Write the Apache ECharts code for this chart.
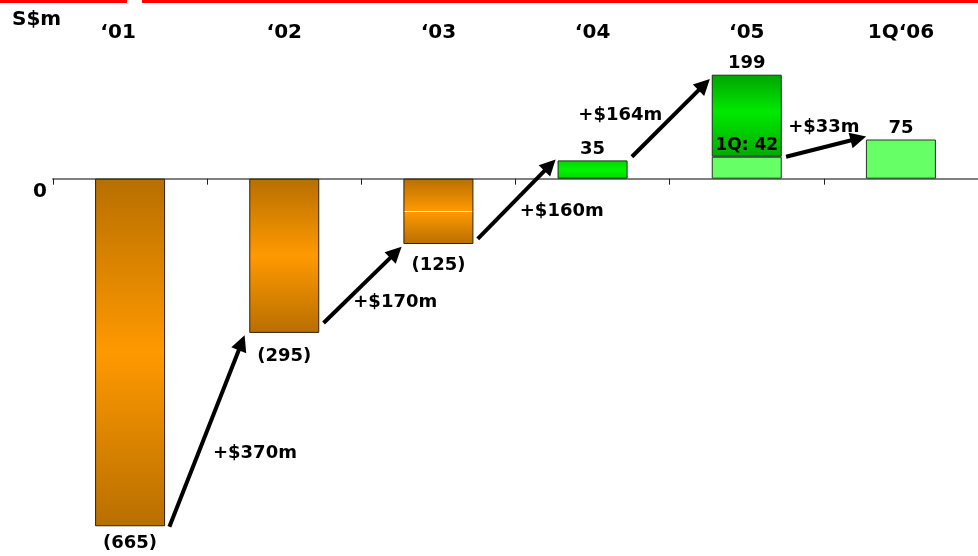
<!DOCTYPE html>
<html>
<head>
<meta charset="utf-8">
<title>S$m</title>
<script src="https://cdn.jsdelivr.net/npm/echarts@6/dist/echarts.min.js"></script>
<style>
  html, body { margin: 0; padding: 0; background: #fff; }
  #chart { width: 978px; height: 556px; }
</style>
</head>
<body>
<div id="chart"></div>
<script>
// data
const categories = ['‘01', '‘02', '‘03', '‘04', '‘05', '1Q‘06']
const yearValues = [-665, -295, -125, 35, 199, 75]
const firstQuarter = [null, null, null, null, 42, null]   // '05 split
const stepLabels = ['+$370m', '+$170m', '+$160m', '+$164m', '+$33m']
const arrowFromValue = [-666, -276, -115, 42, 42]
const arrowToValue = [-314, -141, 26, 180, 77]
// label anchors, in [category position, S$m]
const stepLabelAt = [[1.31, -525], [2.22, -236], [3.30, -62], [3.68, 122], [5.0, 99]]

const FONT = 'DejaVu Sans'
const negLabelGap = [8, 14, 12]

const orange = (white) => new echarts.graphic.LinearGradient(0, 0, 0, 1, white ? [
    { offset: 0, color: '#b86f00' },
    { offset: 0.49, color: '#ff9900' },
    { offset: 0.492, color: '#ffffff' },
    { offset: 0.508, color: '#ffffff' },
    { offset: 0.51, color: '#ff9900' },
    { offset: 1, color: '#b86f00' }
] : [
    { offset: 0, color: '#b86f00' },
    { offset: 0.5, color: '#ff9900' },
    { offset: 1, color: '#b86f00' }
])
const darkGreen = new echarts.graphic.LinearGradient(0, 0, 0, 1, [
    { offset: 0, color: '#00a400' },
    { offset: 0.45, color: '#00ea00' },
    { offset: 1, color: '#00aa00' }
])
const green = new echarts.graphic.LinearGradient(0, 0, 0, 1, [
    { offset: 0, color: '#00d400' },
    { offset: 0.5, color: '#00f400' },
    { offset: 1, color: '#00d800' }
])
const lightGreen = '#66ff66'

// base bars: full year value, or the 1Q part for '05
const baseData = yearValues.map((v, i) => {
    const val = firstQuarter[i] != null ? firstQuarter[i] : v
    let color, border = '#2e2008'
    if (v < 0) color = orange(i === 2)
    else if (i === 3) { color = green; border = '#173017' }
    else { color = lightGreen; border = '#1f3a1f' }
    const item = { value: val, itemStyle: { color: color, borderColor: border } }
    if (v < 0) {
        item.label = { position: 'bottom', distance: negLabelGap[i], formatter: '(' + Math.abs(v) + ')' }
    } else if (firstQuarter[i] != null) {
        item.label = { position: 'top', distance: 3, fontSize: 17, formatter: '1Q: ' + firstQuarter[i] }
    } else {
        item.label = { position: 'top', distance: 2, formatter: String(v) }
    }
    return item
})
// rest of the year on top of the 1Q part
const restData = yearValues.map((v, i) => firstQuarter[i] != null ? {
    value: v - firstQuarter[i],
    label: { show: true, position: 'top', distance: 2, formatter: String(v) }
} : null)

const arrowData = stepLabels.map((s, i) => ({
    coords: [[i + 0.755, arrowFromValue[i]], [i + 1.224, arrowToValue[i]]]
}))
const stepLabelData = stepLabels.map((s, i) => ({ name: s, value: stepLabelAt[i] }))

const chart = echarts.init(document.getElementById('chart'))
chart.setOption({
    animation: false,
    backgroundColor: '#fff',
    textStyle: { fontFamily: FONT },
    title: {
        text: 'S$m', left: 12, top: 10, padding: 0,
        textStyle: { fontFamily: FONT, fontSize: 20, fontWeight: 'bold', color: '#000' }
    },
    grid: { left: 53, right: 0, top: 1, bottom: 1, outerBoundsMode: 'none' },
    graphic: [
        { type: 'rect', shape: { x: 0, y: 0, width: 127, height: 3 }, style: { fill: '#ff0000' } },
        { type: 'rect', shape: { x: 142, y: 0, width: 836, height: 3 }, style: { fill: '#ff0000' } }
    ],
    xAxis: [{
        type: 'category',
        data: categories,
        position: 'bottom',
        axisLine: { onZero: true, lineStyle: { color: '#808080', width: 2 } },
        axisTick: { show: true, length: 6, lineStyle: { color: '#222', width: 1 } },
        axisLabel: { show: false },
        splitLine: { show: false }
    }, {
        type: 'category',
        data: categories,
        position: 'top',
        axisLine: { show: false },
        axisTick: { show: false },
        axisLabel: {
            inside: true, margin: 22, interval: 0,
            fontFamily: FONT, fontSize: 20, fontWeight: 'bold', color: '#000',
            formatter: (v, i) => i === 0 ? '{a|' + v + '}' : v,
            rich: { a: { fontFamily: FONT, fontSize: 20, fontWeight: 'bold', color: '#000', padding: [0, 24, 0, 0] } }
        }
    }, {
        type: 'value', min: 0, max: 6, show: false
    }],
    yAxis: {
        type: 'value',
        min: -720, max: 340, interval: 20,
        axisLine: { show: false },
        axisTick: { show: false },
        splitLine: { show: false },
        axisLabel: {
            margin: 6,
            fontFamily: FONT, fontSize: 20, fontWeight: 'bold', color: '#000',
            verticalAlign: 'top', padding: [3, 0, 0, 0],
            formatter: v => v === 0 ? '0' : ''
        }
    },
    series: [{
        type: 'bar',
        stack: 'year',
        xAxisIndex: 0,
        barWidth: 70,
        data: baseData,
        itemStyle: { borderWidth: 1 },
        label: { show: true, color: '#000', fontFamily: FONT, fontSize: 18, fontWeight: 'bold' }
    }, {
        type: 'bar',
        stack: 'year',
        xAxisIndex: 0,
        barWidth: 70,
        data: restData,
        itemStyle: { color: darkGreen, borderColor: '#173017', borderWidth: 1 },
        label: { color: '#000', fontFamily: FONT, fontSize: 18, fontWeight: 'bold' }
    }, {
        type: 'lines',
        coordinateSystem: 'cartesian2d',
        xAxisIndex: 2,
        yAxisIndex: 0,
        z: 5,
        silent: true,
        symbol: ['none', 'triangle'],
        symbolSize: [16, 16],
        lineStyle: { color: '#000', width: 4, opacity: 1, curveness: 0 },
        data: arrowData
    }, {
        type: 'scatter',
        xAxisIndex: 2,
        yAxisIndex: 0,
        symbolSize: 0,
        silent: true,
        z: 6,
        itemStyle: { color: '#000', opacity: 1 },
        label: {
            show: true, position: 'inside',
            formatter: p => p.name,
            color: '#000', textBorderWidth: 0, opacity: 1,
            fontFamily: FONT, fontSize: 18, fontWeight: 'bold'
        },
        data: stepLabelData
    }]
})
</script>
</body>
</html>
